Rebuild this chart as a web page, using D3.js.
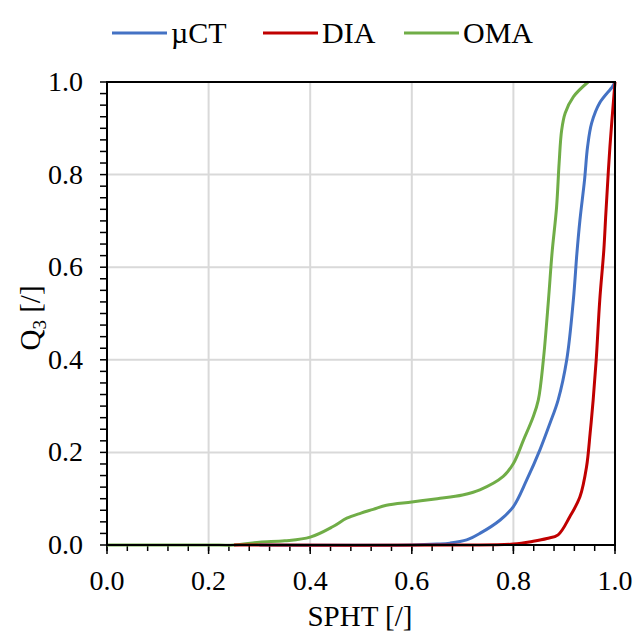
<!DOCTYPE html>
<html>
<head>
<meta charset="utf-8">
<script src="https://cdn.jsdelivr.net/npm/d3@7"></script>
<style>
  body { margin: 0; background: #fff; }
</style>
</head>
<body>
<svg id="chart" width="636" height="634"></svg>
<script>
// series (SPHT vs Q3)
const omaX = [0, 0.2, 0.25, 0.3, 0.35, 0.4, 0.445, 0.472, 0.5, 0.524, 0.55, 0.6, 0.65, 0.7, 0.734, 0.78, 0.8, 0.82, 0.839, 0.849, 0.859, 0.869, 0.876, 0.885, 0.89, 0.895, 0.902, 0.918, 0.947];
const omaY = [0, 0, 0, 0.006, 0.009, 0.017, 0.04, 0.058, 0.069, 0.077, 0.086, 0.093, 0.1, 0.108, 0.119, 0.148, 0.176, 0.227, 0.277, 0.313, 0.4, 0.529, 0.63, 0.73, 0.825, 0.896, 0.933, 0.968, 1.0];

const ctX = [0.3, 0.6, 0.65, 0.675, 0.708, 0.734, 0.774, 0.8, 0.826, 0.852, 0.872, 0.888, 0.905, 0.918, 0.925, 0.931, 0.94, 0.946, 0.954, 0.97, 0.995, 1.0];
const ctY = [0, 0, 0.002, 0.004, 0.011, 0.025, 0.054, 0.083, 0.14, 0.205, 0.263, 0.313, 0.4, 0.529, 0.63, 0.702, 0.788, 0.86, 0.911, 0.955, 0.99, 1.0];

const diaX = [0.25, 0.7, 0.8, 0.839, 0.866, 0.888, 0.911, 0.931, 0.944, 0.951, 0.957, 0.963, 0.97, 0.978, 0.982, 0.99, 1.0];
const diaY = [0, 0, 0.002, 0.008, 0.014, 0.022, 0.061, 0.104, 0.169, 0.241, 0.313, 0.4, 0.529, 0.637, 0.716, 0.86, 1.0];

const seriesNames = ["\u00b5CT", "DIA", "OMA"];
const seriesColors = ["#4472C4", "#C00000", "#70AD47"];
const tickValues = [0, 0.2, 0.4, 0.6, 0.8, 1.0];

const svg = d3.select("#chart");
const pL = 107, pR = 615, pT = 82, pB = 545;
const serif = "Liberation Serif";

const x = d3.scaleLinear().domain([0, 1]).range([pL, pR]);
const y = d3.scaleLinear().domain([0, 1]).range([pB, pT]);

// grid
svg.append("g").selectAll("line").data(tickValues.slice(1, -1)).join("line")
  .attr("x1", d => x(d)).attr("x2", d => x(d)).attr("y1", pT).attr("y2", pB)
  .attr("stroke", "#d9d9d9").attr("stroke-width", 2);
svg.append("g").selectAll("line").data(tickValues.slice(1, -1)).join("line")
  .attr("y1", d => y(d)).attr("y2", d => y(d)).attr("x1", pL).attr("x2", pR)
  .attr("stroke", "#d9d9d9").attr("stroke-width", 2);

// minor ticks
const xMinor = d3.range(0, 1.0001, 0.04);
const yMinor = d3.range(0, 1.0001, 0.025);
svg.append("g").selectAll("line").data(xMinor).join("line")
  .attr("x1", d => x(d)).attr("x2", d => x(d)).attr("y1", pB).attr("y2", pB + 6)
  .attr("stroke", "#000").attr("stroke-width", 1.5);
svg.append("g").selectAll("line").data(yMinor).join("line")
  .attr("y1", d => y(d)).attr("y2", d => y(d)).attr("x1", pL - 7).attr("x2", pL)
  .attr("stroke", "#000").attr("stroke-width", 1.5);
svg.append("g").selectAll("line").data(tickValues).join("line")
  .attr("x1", d => x(d)).attr("x2", d => x(d)).attr("y1", pB).attr("y2", pB + 9)
  .attr("stroke", "#000").attr("stroke-width", 1.5);

// lines
const line = d3.line().x(d => x(d[0])).y(d => y(d[1])).curve(d3.curveCatmullRom.alpha(0.5));
const series = [d3.zip(ctX, ctY), d3.zip(diaX, diaY), d3.zip(omaX, omaY)];
// draw order: green, blue, red on top
[2, 0, 1].forEach(i => {
  svg.append("path").datum(series[i]).attr("d", line)
    .attr("fill", "none").attr("stroke", seriesColors[i]).attr("stroke-width", 3);
});

// frame
svg.append("rect").attr("x", pL).attr("y", pT).attr("width", pR - pL).attr("height", pB - pT)
  .attr("fill", "none").attr("stroke", "#000").attr("stroke-width", 2);

function label(px, py, str, anchor, size) {
  return svg.append("text")
    .attr("x", px).attr("y", py)
    .attr("text-anchor", anchor).attr("font-size", size)
    .attr("font-family", serif).attr("fill", "#000").text(str);
}

const fmt = d3.format(".1f");
tickValues.forEach(v => {
  label(x(v), 590, fmt(v), "middle", 28);
  label(83, y(v) + 9, fmt(v), "end", 28);
});

label(360, 626, "SPHT [/]", "middle", 29);

const yt = svg.append("g").attr("transform", "translate(40,318) rotate(-90)")
  .append("text").attr("x", 0).attr("y", 0)
  .attr("text-anchor", "middle").attr("font-size", 29)
  .attr("font-family", serif).attr("fill", "#000");
yt.append("tspan").text("Q");
yt.append("tspan").attr("font-size", 19).attr("dy", 6).text("3");
yt.append("tspan").attr("dy", -6).text(" [/]");

// legend
const legX = [112, 263, 404];
seriesNames.forEach((n, i) => {
  svg.append("line").attr("x1", legX[i]).attr("x2", legX[i] + 55).attr("y1", 33).attr("y2", 33)
    .attr("stroke", seriesColors[i]).attr("stroke-width", 3);
  label(legX[i] + 59, 43, n, "start", 30);
});
</script>
</body>
</html>
